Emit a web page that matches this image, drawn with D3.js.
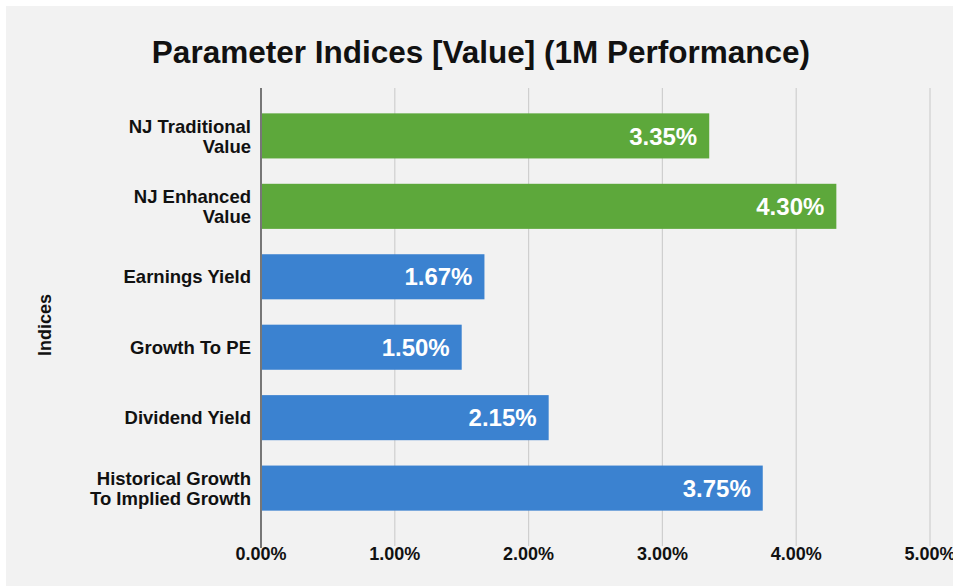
<!DOCTYPE html>
<html>
<head>
<meta charset="utf-8">
<script src="https://cdn.jsdelivr.net/npm/d3@7"></script>
<style>
  html, body { margin: 0; padding: 0; background: #ffffff; }
  svg { display: block; }
  text { font-family: "Liberation Sans", Arial, sans-serif; font-weight: bold; }
</style>
</head>
<body>
<svg id="chart" width="953" height="586"></svg>
<script>
const categories = [
  ["NJ Traditional", "Value"],
  ["NJ Enhanced", "Value"],
  ["Earnings Yield"],
  ["Growth To PE"],
  ["Dividend Yield"],
  ["Historical Growth", "To Implied Growth"]
];
const values = [3.35, 4.30, 1.67, 1.50, 2.15, 3.75];
const barColors = ["#5da83b", "#5da83b", "#3b82d0", "#3b82d0", "#3b82d0", "#3b82d0"];
const tickValues = [0, 1, 2, 3, 4, 5];
const tickLabels = ["0.00%", "1.00%", "2.00%", "3.00%", "4.00%", "5.00%"];
const titleText = "Parameter Indices [Value] (1M Performance)";
const yAxisTitle = "Indices";

const svg = d3.select("#chart");
const W = 953, H = 586;

svg.append("rect").attr("x", 6).attr("y", 6).attr("width", W - 6).attr("height", H - 6).attr("fill", "#f2f2f2");

const x = d3.scaleLinear().domain([0, 5]).range([261, 930]);
const keys = categories.map((c, i) => i);
const y = d3.scaleBand().domain(keys).range([88, 536]).paddingInner(0.36).paddingOuter(0.36);

// gridlines
svg.append("g").selectAll("line").data(tickValues.slice(1)).join("line")
  .attr("x1", d => x(d)).attr("x2", d => x(d))
  .attr("y1", 88).attr("y2", 546)
  .attr("stroke", "#cfcfcf").attr("stroke-width", 1.2);

// bars
svg.append("g").selectAll("rect").data(values).join("rect")
  .attr("x", x(0) + 1)
  .attr("y", (d, i) => y(i))
  .attr("width", d => x(d) - x(0) - 1)
  .attr("height", y.bandwidth())
  .attr("fill", (d, i) => barColors[i]);

// value labels
svg.append("g").selectAll("text").data(values).join("text")
  .attr("x", d => x(d) - 12)
  .attr("y", (d, i) => y(i) + y.bandwidth() / 2)
  .attr("dy", "0.36em")
  .attr("text-anchor", "end")
  .attr("fill", "#ffffff")
  .attr("font-size", 24)
  .text(d => d.toFixed(2) + "%");

// axis line
svg.append("line").attr("x1", x(0)).attr("x2", x(0)).attr("y1", 88).attr("y2", 548)
  .attr("stroke", "#333333").attr("stroke-width", 1.3);

// x tick labels
svg.append("g").selectAll("text").data(tickValues).join("text")
  .attr("x", d => x(d))
  .attr("y", 560)
  .attr("text-anchor", "middle")
  .attr("fill", "#111111")
  .attr("font-size", 18)
  .text((d, i) => tickLabels[i]);

// category labels
const catG = svg.append("g").selectAll("text").data(categories).join("text")
  .attr("text-anchor", "end")
  .attr("fill", "#111111")
  .attr("font-size", 18.5)
  .attr("transform", (d, i) => `translate(251,${y(i) + y.bandwidth() / 2})`);
catG.each(function(lines) {
  const t = d3.select(this);
  const lh = 20;
  const start = -(lines.length - 1) * lh / 2;
  lines.forEach((ln, j) => {
    t.append("tspan").attr("x", 0).attr("y", start + j * lh).attr("dy", "0.36em").text(ln);
  });
});

// y axis title
svg.append("text")
  .attr("transform", "translate(51,325) rotate(-90)")
  .attr("text-anchor", "middle")
  .attr("fill", "#111111")
  .attr("font-size", 18)
  .text(yAxisTitle);

// title
svg.append("text")
  .attr("x", 481).attr("y", 63)
  .attr("text-anchor", "middle")
  .attr("fill", "#111111")
  .attr("font-size", 31.5)
  .text(titleText);
</script>
</body>
</html>
